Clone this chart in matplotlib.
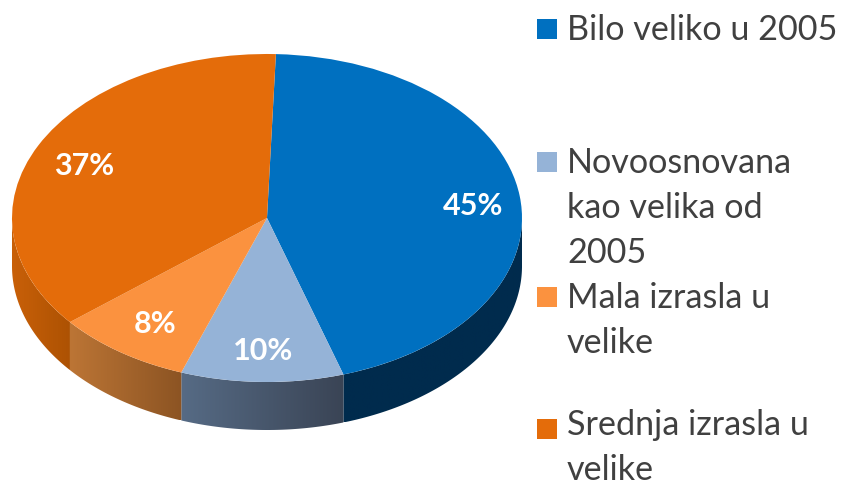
import numpy as np
import matplotlib
matplotlib.use("Agg")
import matplotlib.pyplot as plt
from matplotlib.colors import LinearSegmentedColormap
from matplotlib.patches import Polygon, Rectangle
from matplotlib.transforms import Affine2D

categories = ["Bilo veliko u 2005", "Novoosnovana\nkao velika od\n2005",
              "Mala izrasla u\nvelike", "Srednja izrasla u\nvelike"]
values = [44.6, 10.3, 8.6, 36.5]
labels = ["45%", "10%", "8%", "37%"]
colors = ["#0070C0", "#95B3D7", "#FB923F", "#E46C0A"]
wall_left = ["#002B4D", "#566B85", "#BC7535", "#C96008"]
wall_right = ["#002B4D", "#3A4455", "#8C5423", "#AD5203"]

W, H = 842, 488
CX, CY, RX, RY, DEPTH = 267, 270, 255, 164, 48
START = 88

fig = plt.figure(figsize=(W / 100, H / 100), dpi=100, facecolor="white")
ax = fig.add_axes([0, 0, 1, 1])
ax.set_xlim(0, W)
ax.set_ylim(0, H)
ax.axis("off")

fracs = np.array(values) / sum(values)
edges = START - 360 * np.concatenate([[0], np.cumsum(fracs)])

# side walls (visible part only: lower half of the ellipse)
for i in range(len(values)):
    a0, a1 = edges[i + 1], edges[i]
    a_hi = min(a1, 0)
    a_lo = max(a0, -180)
    if a_hi <= a_lo:
        continue
    t = np.radians(np.linspace(a_lo, a_hi, 200))
    x = CX + RX * np.cos(t)
    y = CY + RY * np.sin(t)
    poly = np.vstack([np.c_[x, y], np.c_[x[::-1], y[::-1] - DEPTH]])
    patch = Polygon(poly, closed=True, facecolor="none", edgecolor="none")
    ax.add_patch(patch)
    cmap = LinearSegmentedColormap.from_list("w", [wall_left[i], wall_right[i]])
    im = ax.imshow(np.linspace(0, 1, 256).reshape(1, -1), cmap=cmap, aspect="auto",
                   extent=[x.min(), x.max(), poly[:, 1].min(), poly[:, 1].max()],
                   zorder=1)
    im.set_clip_path(patch)
ax.set_xlim(0, W)
ax.set_ylim(0, H)

# top face
wedges, _ = ax.pie(values, startangle=START, counterclock=False, colors=colors,
                   radius=1, center=(0, 0), frame=False,
                   wedgeprops={"linewidth": 0, "zorder": 3})
tr = Affine2D().scale(RX, RY).translate(CX, CY) + ax.transData
for w in wedges:
    w.set_transform(tr)
ax.set_xlim(0, W)
ax.set_ylim(0, H)
ax.set_aspect("auto")
ax.axis("off")

# value labels
label_xy = [(473, 206), (263, 351), (155, 324), (84, 166)]
for s, (x, y) in zip(labels, label_xy):
    ax.text(x, H - y, s, color="white", fontsize=22, fontweight="bold",
            family="Lato", ha="center", va="center", zorder=5)

# legend
legend_y = [29, 162, 297, 429]
text_y = [29, 162, 297, 424]
for cat, col, y, ty in zip(categories, colors, legend_y, text_y):
    ax.add_patch(Rectangle((537, H - y - 10), 20, 20, facecolor=col,
                           edgecolor="none", zorder=5))
    ax.text(567, H - ty + 15, cat, color="#404040", fontsize=24.6, family="Lato",
            ha="left", va="top", linespacing=1.5, zorder=5)

fig.savefig("out.png", dpi=100, facecolor="white")
